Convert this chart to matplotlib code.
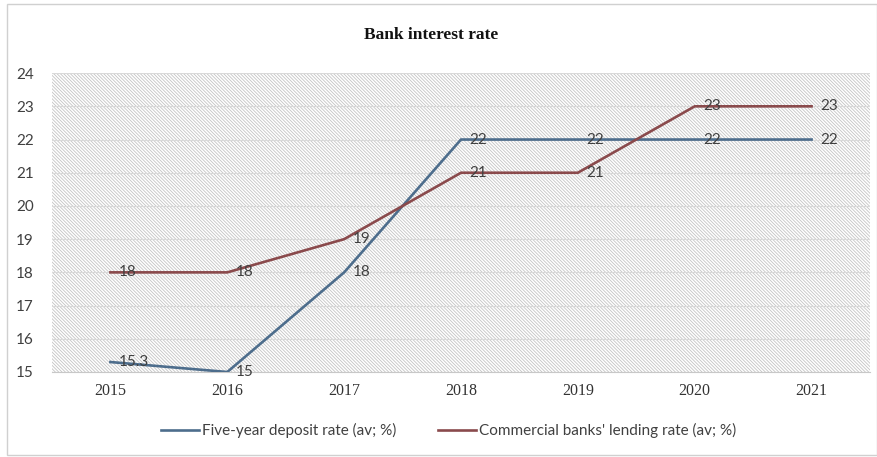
import matplotlib.pyplot as plt
from matplotlib.patches import Rectangle

years = ['2015', '2016', '2017', '2018', '2019', '2020', '2021']
deposit_rate = [15.3, 15, 18, 22, 22, 22, 22]
lending_rate = [18, 18, 19, 21, 21, 23, 23]
deposit_labels = ['15.3', '15', '18', '22', '22', '22', '22']
lending_labels = ['18', '18', '19', '21', '21', '23', '23']

blue = '#4d6d8c'
red = '#8a4a4c'

plt.rcParams['hatch.color'] = '#c4c4c4'
plt.rcParams['hatch.linewidth'] = 0.6

fig = plt.figure(figsize=(8.77, 4.57), dpi=100)
ax = fig.add_axes([0.0593, 0.186, 0.9327, 0.654])

# striped plot area
ax.add_patch(Rectangle((0, 0), 1, 1, transform=ax.transAxes, facecolor='white',
                       edgecolor='#c4c4c4', hatch='\\' * 10, linewidth=0, zorder=0))

x = list(range(len(years)))
ax.plot(x, deposit_rate, color=blue, lw=1.9, zorder=3, solid_joinstyle='miter',
        label='Five-year deposit rate (av; %)')
ax.plot(x, lending_rate, color=red, lw=1.9, zorder=3, solid_joinstyle='miter',
        label="Commercial banks' lending rate (av; %)")

for xi, v, t in zip(x, deposit_rate, deposit_labels):
    ax.annotate(t, (xi, v), xytext=(6, 0), textcoords='offset points',
                va='center', ha='left', fontsize=11, color='#404040',
                family='Lato', zorder=4)
for xi, v, t in zip(x, lending_rate, lending_labels):
    ax.annotate(t, (xi, v), xytext=(6, 0), textcoords='offset points',
                va='center', ha='left', fontsize=11, color='#404040',
                family='Lato', zorder=4)

ax.set_xlim(-0.5, 6.5)
ax.set_ylim(15, 24)
ax.set_yticks(range(15, 25))
ax.set_xticks(x)
ax.set_xticklabels(years, family='Liberation Serif', fontsize=11.5, color='#333333')
for lab in ax.get_yticklabels():
    lab.set_family('Lato')
    lab.set_fontsize(11)
    lab.set_color('#404040')
ax.tick_params(axis='y', length=0, pad=13)
ax.tick_params(axis='x', length=0, pad=8)
ax.grid(axis='y', color='#d9d9d9', lw=0.8, zorder=1)
ax.set_axisbelow(True)
for s in ['top', 'right', 'left']:
    ax.spines[s].set_visible(False)
ax.spines['bottom'].set_color('#c8c8c8')

fig.text(0.492, 0.923, 'Bank interest rate', ha='center', va='center',
         family='Liberation Serif', fontweight='bold', fontsize=12.5, color='#111111')

ax.legend(loc='center', bbox_to_anchor=(0.485, -0.197), ncol=2, frameon=False,
          prop={'family': 'Lato', 'size': 11}, handlelength=2.5, handletextpad=0.2,
          columnspacing=2.7, labelcolor='#404040')

# outer chart border
fig.add_artist(Rectangle((7 / 877, 2 / 457), 1 - 7 / 877, 451 / 457,
                         transform=fig.transFigure, fill=False,
                         edgecolor='#d0d0d0', lw=1))

fig.savefig('out.png', dpi=100)
